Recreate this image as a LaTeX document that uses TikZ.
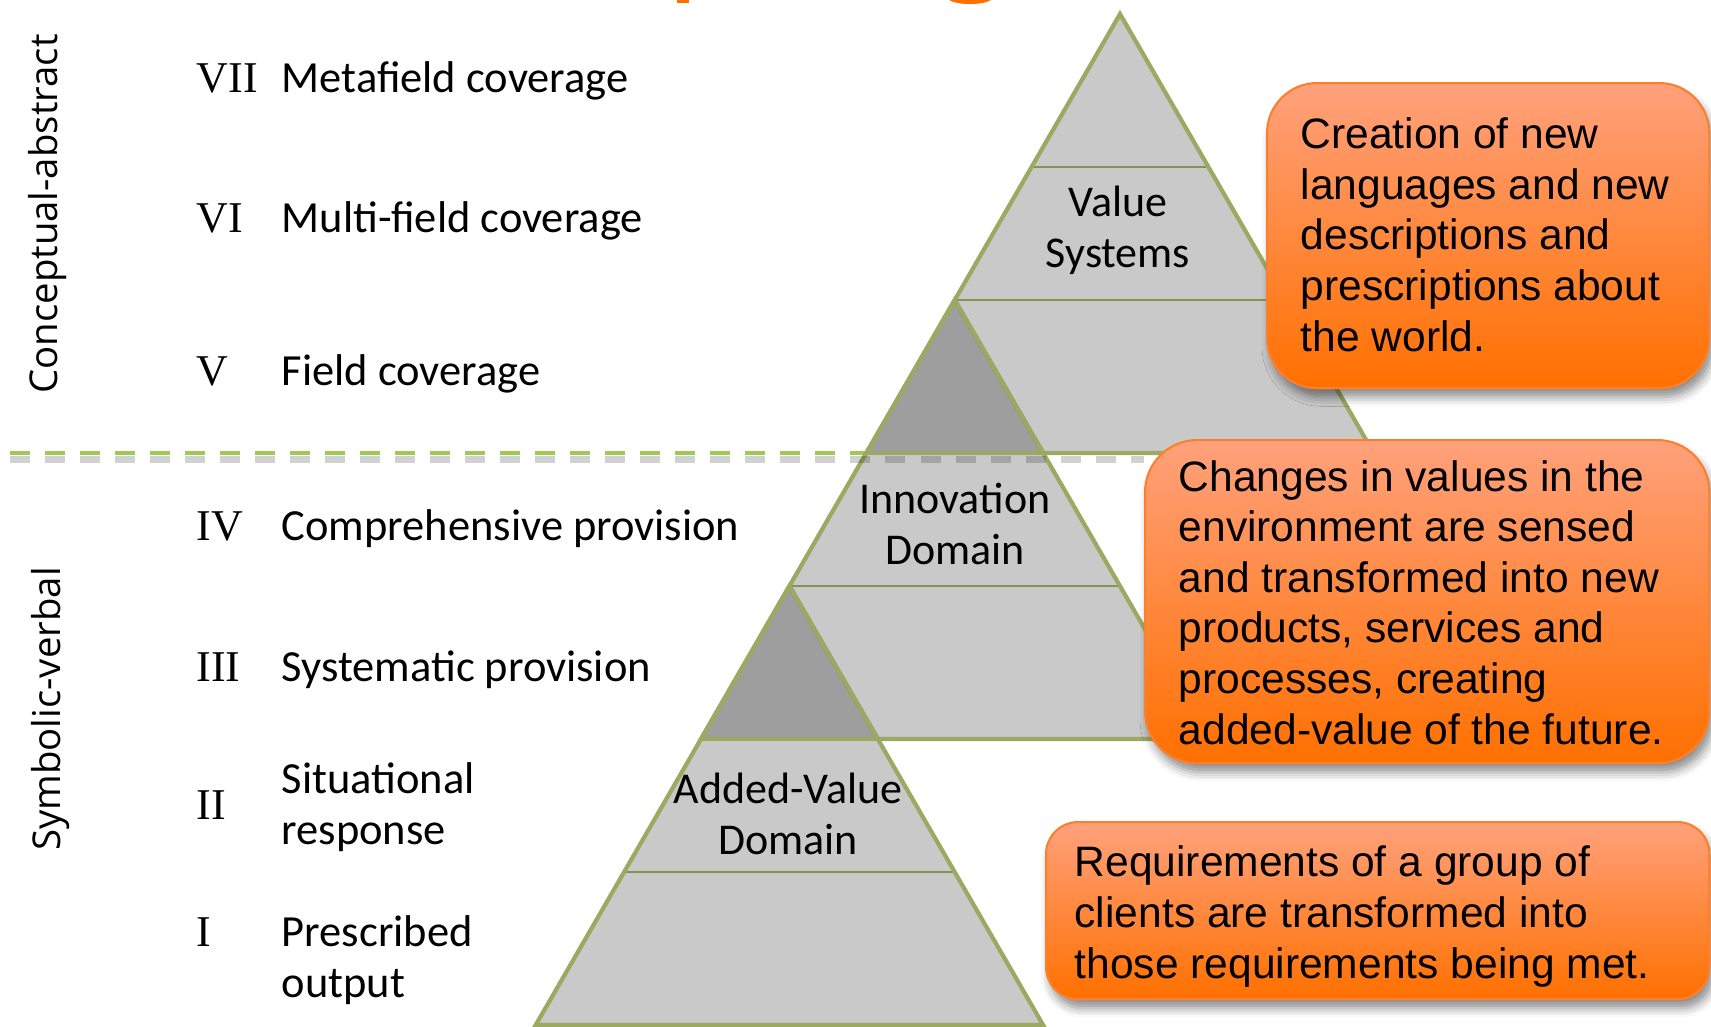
\documentclass[tikz,border=0pt]{standalone}
\usepackage{fontspec}
\usepackage{xcolor}
\usetikzlibrary{shadows.blur}
\setmainfont{Carlito}
\newfontfamily\boxfont{Liberation Sans}
\newfontfamily\numfont{Liberation Serif}
\newfontfamily\sidefont{Open Sans}

\definecolor{pyrfill}{RGB}{201,201,201}
\definecolor{pyrdark}{RGB}{158,158,158}
\definecolor{pyredge}{RGB}{155,169,98}
\definecolor{pyrrow}{RGB}{133,148,84}
\definecolor{pyrinner}{RGB}{116,130,70}
\definecolor{splitgreen}{RGB}{160,201,84}
\definecolor{boxtop}{RGB}{255,161,124}
\definecolor{boxbottom}{RGB}{255,112,0}
\definecolor{boxedge}{RGB}{250,128,45}

\begin{document}
\begin{tikzpicture}[x=0.01cm, y=-0.01cm,
	levelname/.style={font=\fontsize{12.65}{14.5}\selectfont, anchor=base west, align=left, inner sep=0pt},
	levelnum/.style={font=\numfont\fontsize{12.5}{14.5}\selectfont, anchor=base west, inner sep=0pt},
	tierlabel/.style={font=\fontsize{12.5}{14.5}\selectfont, align=center, inner sep=0pt},
	sidelabel/.style={font=\sidefont\fontsize{10.9}{13}\selectfont, rotate=90, inner sep=0pt},
	notebox/.style={draw=boxedge, line width=0.6pt, top color=boxtop, bottom color=boxbottom,
		anchor=north west, inner sep=0pt,
		blur shadow={shadow xshift=0.4mm, shadow yshift=-0.9mm, shadow blur radius=0.9mm, shadow opacity=45}},
	notetext/.style={font=\boxfont\fontsize{12.1}{14.37}\selectfont, anchor=base west, align=left, inner sep=0pt},
	pyrline/.style={draw=pyredge, line width=1.2pt},
	rowline/.style={draw=pyrrow, line width=0.75pt},
	splitdash/.style={line width=1.4pt, dash pattern=on 0.2cm off 0.15cm}]
	\useasboundingbox (0,0) rectangle (1711,1026);
	
	% bits of the cut-off title
	\fill[boxbottom] (677,-5) rectangle (689,3);
	\fill[boxbottom] (970,-2) ellipse [x radius=22, y radius=6];
	
	% split between the two halves
	\coordinate (splitL) at (10,453);
	\coordinate (splitR) at (1144,453);
	\draw[splitgreen, splitdash] (splitL) -- (splitR);
	
	% pyramid: three triangles, each apex on the left edge of the one above
	\foreach \k in {0,1,2}{
		\pgfmathsetmacro\ax{1120-165.3*\k}
		\pgfmathsetmacro\ay{14+286*\k}
		\coordinate (apex\k) at (\ax,\ay);
		\fill[pyrfill] (apex\k) -- ++(-253.7,439) -- ++(507.4,0) -- cycle;
		\ifnum\k>0
			\fill[pyrdark] (apex\k) -- ++(-88.4,153) -- ++(176.8,0) -- cycle;
			\draw[pyrinner, line width=1.2pt] (apex\k) -- ++(88.4,153);
			\draw[pyrline] (\ax-88.4,\ay+153) -- (\ax+88.4,\ay+153);
		\else
			\draw[rowline] (\ax-88.4,\ay+153) -- (\ax+88.4,\ay+153);
		\fi
		\draw[rowline] (\ax-165.3,\ay+286) -- (\ax+165.3,\ay+286);
		\draw[pyrline] (apex\k) -- ++(-253.7,439) -- ++(507.4,0) -- cycle;
	}
	% shadow of the split, over the pyramid
	\draw[black, opacity=0.18, splitdash, line width=2pt] ([yshift=-0.6mm]splitL) -- ([yshift=-0.6mm]splitR);
	
	\node[tierlabel] (valuesys) at (1118,230) {Value\\Systems};
	\node[tierlabel] (innovation) at (955,524) {Innovation\\Domain};
	\node[tierlabel] (addedvalue) at (788,814) {Added-Value\\Domain};
	
	% levels
	\foreach \num/\name/\base in {VII/Metafield coverage/92, VI/Multi-field coverage/232,
		V/Field coverage/385, IV/Comprehensive provision/540, III/Systematic provision/681}{
		\node[levelnum] (num\num) at (196,\base) {\num};
		\node[levelname] (lvl\num) at (281,\base) {\name};
	}
	\node[levelnum] (numII) at (196,819) {II};
	\node[levelname] (lvlII) at (281,844) {Situational\\response};
	\node[levelnum] (numI) at (196,946) {I};
	\node[levelname] (lvlI) at (281,997) {Prescribed\\output};
	
	\node[sidelabel] (abstract) at (48,214) {Conceptual-abstract};
	\node[sidelabel] (verbal) at (51,709) {Symbolic-verbal};
	
	% notes (text nodes sit on the baseline of their last line)
	\node[notebox, minimum width=4.42cm, minimum height=3.05cm, rounded corners=0.5cm] (creation) at (1266,82) {};
	\node[notetext] (creationtext) at (1300,351) {Creation of new\\languages and new\\descriptions and\\prescriptions about\\the world.};
	\node[notebox, minimum width=5.64cm, minimum height=3.23cm, rounded corners=0.52cm] (changes) at (1144,439) {};
	\node[notetext] (changestext) at (1178,744) {Changes in values in the\\environment are sensed\\and transformed into new\\products, services and\\processes, creating\\added-value of the future.};
	\node[notebox, minimum width=6.63cm, minimum height=1.77cm, rounded corners=0.32cm] (requirements) at (1045,821) {};
	\node[notetext] (requirementstext) at (1074,978) {Requirements of a group of\\clients are transformed into\\those requirements being met.};
\end{tikzpicture}
\end{document}
